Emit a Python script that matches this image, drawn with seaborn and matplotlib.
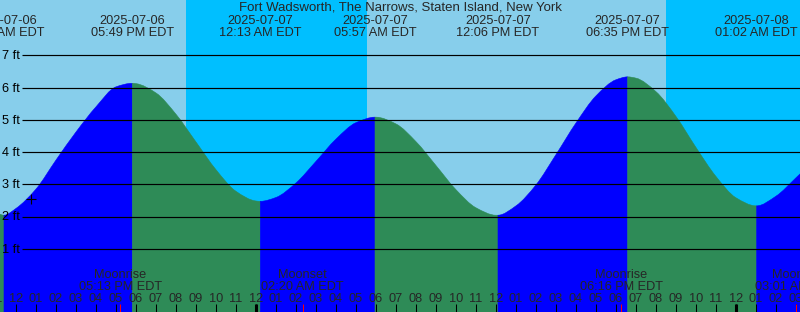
import matplotlib
matplotlib.use("Agg")
import matplotlib.pyplot as plt
from matplotlib.path import Path
from matplotlib.patches import PathPatch
import seaborn as sns
import numpy as np
import pandas as pd

# ---------------- data ----------------
station = "Fort Wadsworth, The Narrows, Staten Island, New York"

# hours since 2025-07-06 12:00 PM EDT, tide height in ft
hour_times = [-1, 0, 1, 2, 3, 4, 5, 6, 7, 8, 9, 10, 11, 12, 13, 14, 15, 16, 17, 18, 19, 20,
              21, 22, 23, 24, 25, 26, 27, 28, 29, 30, 31, 32, 33, 34, 35, 36, 37, 38, 39, 40]
hour_heights = [2.12, 2.25, 2.85, 3.75, 4.62, 5.40, 6.02, 6.12, 5.83, 5.17, 4.31, 3.45, 2.78,
                2.48, 2.59, 3.04, 3.71, 4.40, 4.91, 5.08, 4.87, 4.32, 3.58, 2.83, 2.27, 2.04,
                2.33, 2.98, 3.92, 4.90, 5.74, 6.24, 6.29, 5.87, 5.10, 4.14, 3.24, 2.58, 2.33,
                2.63, 3.20, 3.80]

extreme_times = [-0.6, 5.817, 12.217, 17.95, 24.1, 30.583, 37.033]
extreme_heights = [2.04, 6.13, 2.47, 5.08, 2.04, 6.33, 2.33]
extreme_dates = ["2025-07-06", "2025-07-06", "2025-07-07", "2025-07-07",
                 "2025-07-07", "2025-07-07", "2025-07-08"]
extreme_clock = ["11:24 AM EDT", "05:49 PM EDT", "12:13 AM EDT", "05:57 AM EDT",
                 "12:06 PM EDT", "06:35 PM EDT", "01:02 AM EDT"]

night_starts = [8.5, 32.5]
night_ends = [17.55, 40.0]

moon_times = [5.217, 14.333, 30.267, 39.017]
moon_events = ["Moonrise", "Moonset", "Moonrise", "Moonset"]
moon_clock = ["05:13 PM EDT", "02:20 AM EDT", "06:16 PM EDT", "03:01 AM EDT"]

hour_ticks = list(range(-1, 40))
hour_labels = ["11", "12",
               "01", "02", "03", "04", "05", "06", "07", "08", "09", "10", "11", "12",
               "01", "02", "03", "04", "05", "06", "07", "08", "09", "10", "11", "12",
               "01", "02", "03", "04", "05", "06", "07", "08", "09", "10", "11", "12",
               "01", "02", "03"]
midnight_ticks = [12, 36]

height_levels = [1, 2, 3, 4, 5, 6, 7]
height_labels = ["1 ft", "2 ft", "3 ft", "4 ft", "5 ft", "6 ft", "7 ft"]

now_time = 0.725
now_height = 2.53

# ---------------- style ----------------
DAY = "#87CEEB"
NIGHT = "#00BFFF"
RISE = "#0000FF"
FALL = "#2E8B57"

sns.set_style("white")
plt.rcParams["font.family"] = ["Liberation Sans", "DejaVu Sans"]
FS = 9.2

W, H = 800, 312
PX_FT = 32.25
ZERO_Y = 281.0
fig = plt.figure(figsize=(W / 100, H / 100), dpi=100)
fig.patch.set_facecolor(DAY)
ax = fig.add_axes([0, 0, 1, 1])
x0 = -16 / 20
x1 = x0 + W / 20
ybot = -(H - ZERO_Y) / PX_FT
ytop = ZERO_Y / PX_FT

xt = ax.get_xaxis_transform()
yt = ax.get_yaxis_transform()


def fy(py):
    return 1 - py / H


# sky
for a, b in zip(night_starts, night_ends):
    ax.axvspan(a, b, color=NIGHT, lw=0, zorder=0)

# water: smooth (monotone cubic) outline through the read values
df = pd.DataFrame({"t": hour_times + extreme_times, "h": hour_heights + extreme_heights})
df = df.sort_values("t").drop_duplicates("t").reset_index(drop=True)
tx = df.t.to_numpy(float)
hy = df.h.to_numpy(float)
hstep = np.diff(tx)
dl = np.diff(hy) / hstep
slope = np.zeros_like(hy)
slope[0], slope[-1] = dl[0], dl[-1]
for k in range(1, len(hy) - 1):
    if dl[k - 1] * dl[k] > 0:
        w1 = 2 * hstep[k] + hstep[k - 1]
        w2 = hstep[k] + 2 * hstep[k - 1]
        slope[k] = (w1 + w2) / (w1 / dl[k - 1] + w2 / dl[k])

bounds = [-1e9] + extreme_times + [1e9]
for i in range(len(bounds) - 1):
    a, b = bounds[i], bounds[i + 1]
    if i == 0:
        rising = extreme_heights[0] > extreme_heights[1]
    elif i == len(bounds) - 2:
        rising = extreme_heights[-1] < extreme_heights[-2]
    else:
        rising = extreme_heights[i] > extreme_heights[i - 1]
    c = RISE if rising else FALL
    idx = np.where((tx >= a) & (tx <= b))[0]
    verts = [(tx[idx[0]], ybot), (tx[idx[0]], hy[idx[0]])]
    codes = [Path.MOVETO, Path.LINETO]
    for k in idx[:-1]:
        dx = tx[k + 1] - tx[k]
        verts += [(tx[k] + dx / 3, hy[k] + slope[k] * dx / 3),
                  (tx[k + 1] - dx / 3, hy[k + 1] - slope[k + 1] * dx / 3),
                  (tx[k + 1], hy[k + 1])]
        codes += [Path.CURVE4] * 3
    verts += [(tx[idx[-1]], ybot), (tx[idx[0]], ybot)]
    codes += [Path.LINETO, Path.CLOSEPOLY]
    ax.add_patch(PathPatch(Path(verts, codes), facecolor=c, edgecolor=c, lw=0.4, zorder=1))

# height grid
ax.hlines(height_levels, 22 / W, 1, transform=yt, colors="black", lw=0.85, zorder=3)
for lv, lab in zip(height_levels, height_labels):
    ax.text(2 / W, lv - 4 / PX_FT, lab, transform=yt, ha="left", va="baseline",
            fontsize=FS, color="black", zorder=4)

# title and extreme labels
ax.text(0.5, fy(11), station, transform=ax.transAxes, ha="center", va="baseline",
        fontsize=9.5, zorder=4)
for t, d, c in zip(extreme_times, extreme_dates, extreme_clock):
    ax.text(t, fy(24), d, transform=xt, ha="center", va="baseline", fontsize=FS, zorder=4)
    ax.text(t, fy(36), c, transform=xt, ha="center", va="baseline", fontsize=FS, zorder=4)

# moon events
for t, e, c in zip(moon_times, moon_events, moon_clock):
    ax.text(t, fy(277.5), e, transform=xt, ha="center", va="baseline", fontsize=FS, zorder=4)
    ax.text(t, fy(290), c, transform=xt, ha="center", va="baseline", fontsize=FS, zorder=4)

# hour axis
ax.vlines(hour_ticks, 0, 8 / H, transform=xt, colors="black", lw=0.75, zorder=4)
ax.vlines(midnight_ticks, 0, 8.5 / H, transform=xt, colors="black", lw=2.2, zorder=4)
ax.vlines(moon_times, 0, 8 / H, transform=xt, colors="red", lw=0.75, zorder=5)
for t, lab in zip(hour_ticks, hour_labels):
    ax.text(t, fy(302), lab, transform=xt, ha="center", va="baseline", fontsize=FS, zorder=4)

# current time mark
sns.scatterplot(x=[now_time], y=[now_height], marker="+", s=48, linewidth=0.8,
                color="black", ax=ax, zorder=5, legend=False)

ax.set_xlim(x0, x1)
ax.set_ylim(ybot, ytop)
ax.axis("off")

fig.savefig("out.png", dpi=100, facecolor=fig.get_facecolor())
